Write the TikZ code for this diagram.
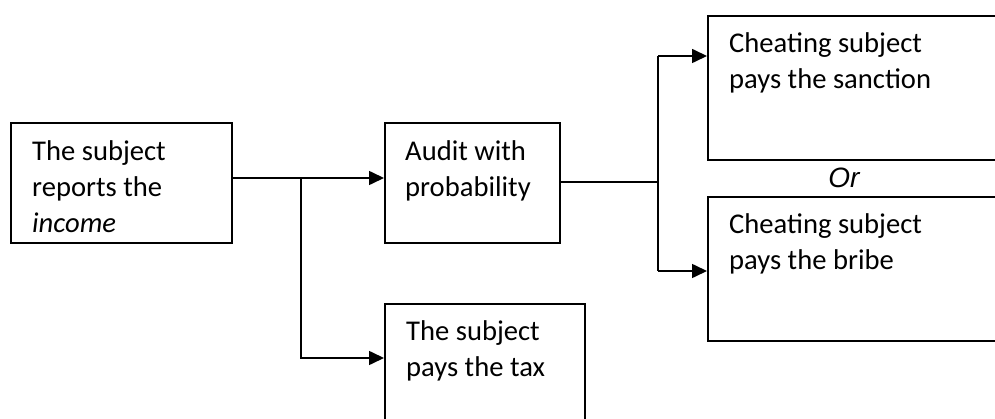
\documentclass[tikz,border=0pt]{standalone}
\usepackage{fontspec}
\setmainfont{Carlito}
\newfontfamily\orfont{Liberation Sans}
\usetikzlibrary{arrows.meta,calc}
\tikzset{
  box/.style={draw, line width=1.6pt, inner sep=0pt, anchor=north west},
  txt/.style={anchor=north west, inner sep=0pt, align=left, font=\fontsize{28.6}{36}\selectfont},
  conn/.style={line width=1.6pt},
  arr/.style={conn, -{Triangle[length=15pt,width=14pt]}},
}
\begin{document}
\begin{tikzpicture}[x=1pt,y=-1pt]
\clip (0,0) rectangle (995,419);
\fill[white] (0,0) rectangle (995,419);
% boxes
\node[box, minimum width=221pt, minimum height=120pt] (A) at (10,122) {};
\node[box, minimum width=175pt, minimum height=120pt] (B) at (384,122) {};
\node[box, minimum width=200pt, minimum height=122pt] (D) at (384,303) {};
\node[box, minimum width=310pt, minimum height=144pt] (C) at (707,15) {};
\node[box, minimum width=310pt, minimum height=144pt] (E) at (707,196) {};
% texts
\node[txt] (At) at ($(A.north west)+(22,18)$) {The subject\\reports the\\\textit{income}};
\node[txt] (Bt) at ($(B.north west)+(21,18)$) {Audit with\\probability};
\node[txt] (Dt) at ($(D.north west)+(22,17)$) {The subject\\pays the tax};
\node[txt] (Ct) at ($(C.north west)+(22,17)$) {Cheating subject\\pays the sanction};
\node[txt] (Et) at ($(E.north west)+(22,17)$) {Cheating subject\\pays the bribe};
\node[anchor=base, inner sep=0pt, font=\orfont\fontsize{28}{34}\selectfont\itshape] (or) at (844,188) {Or};
% junctions
\coordinate (j1) at (301,178);
\coordinate (j2) at (301,358);
\coordinate (k0) at (658,182);
\coordinate (k1) at (658,56);
\coordinate (k2) at (658,271);
% connectors
\draw[arr] (A.east |- j1) -- (B.west |- j1);
\draw[arr] (j1) -- (j2) -- (D.west |- j2);
\draw[line width=1.3pt] (B.east |- k0) -- (k0);
\draw[conn] (k1) -- (k2);
\draw[arr] (k1) -- (C.west |- k1);
\draw[arr] (k2) -- (E.west |- k2);
\end{tikzpicture}
\end{document}
